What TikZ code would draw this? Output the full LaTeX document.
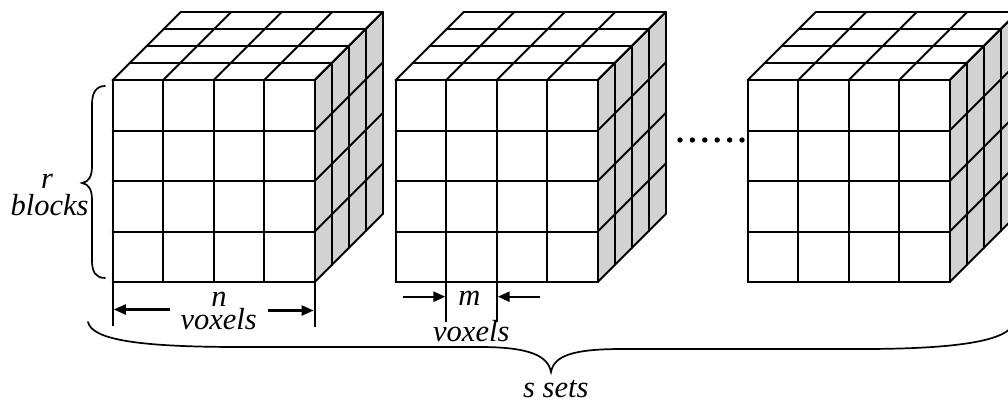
\documentclass[tikz,border=0pt]{standalone}
\usepackage{fontspec}
\setmainfont{Liberation Serif}
\newfontfamily\labelfont{Liberation Serif}
\usetikzlibrary{arrows.meta}
\definecolor{sidegray}{RGB}{210,210,210}
\tikzset{
  cubeline/.style={line width=2pt, line cap=round, line join=round},
  dimline/.style={line width=1.9pt},
  dimarrow/.style={line width=2.4pt, -{Triangle[length=12pt,width=10pt]}},
  bracel/.style={line width=1.7pt, line cap=round},
  lbl/.style={font=\labelfont\itshape\fontsize{30.5}{30.5}\selectfont, inner sep=0pt, anchor=base},
  % a 4x4x4 voxel cube, origin at the top-left corner of the front face
  voxelcube/.pic={
    \fill[sidegray] (202,0) -- (270,-68) -- (270,134) -- (202,202) -- cycle;
    \foreach \i in {0,...,4}{
      % front face
      \draw[cubeline] (\i*50.5,0) -- (\i*50.5,202);
      \draw[cubeline] (0,\i*50.5) -- (202,\i*50.5);
      % top face
      \draw[cubeline] (\i*17,-\i*17) -- (202+\i*17,-\i*17);
      \draw[cubeline] (\i*50.5,0) -- (\i*50.5+68,-68);
      % right face
      \draw[cubeline] (202+\i*17,-\i*17) -- (202+\i*17,202-\i*17);
      \draw[cubeline] (202,\i*50.5) -- (270,\i*50.5-68);
    }
    \coordinate (-ftl) at (0,0);
    \coordinate (-fbl) at (0,202);
    \coordinate (-fbr) at (202,202);
    \coordinate (-c1) at (50.5,202);
    \coordinate (-c2) at (101,202);
  },
}
\begin{document}
\begin{tikzpicture}[x=1pt,y=-1pt]
  \useasboundingbox (0,0) rectangle (1008,402);
  \clip (0,0) rectangle (1008,402);

  % the voxel sets
  \pic (c1) at (112.7,80) {voxelcube};
  \pic (c2) at (395.7,80) {voxelcube};
  \pic (c3) at (747.8,80) {voxelcube};

  % ellipsis between the sets
  \foreach \k in {0,...,5}
    \fill (680+\k*12.4,140) circle (2.7);

  % r blocks
  \draw[bracel] (105,86) .. controls (96,86) and (92,93) .. (92,104)
    -- (92,166) .. controls (92,176) and (89,182) .. (82,183)
    .. controls (89,184) and (92,190) .. (92,200)
    -- (92,261) .. controls (92,272) and (96,278) .. (105,278);
  \node[lbl] (rlab) at (47,188) {r};
  \node[lbl] (blab) at (49.5,215) {blocks};

  % n voxels
  \draw[dimline] (c1-fbl) -- ++(0,44) coordinate (nextl);
  \draw[dimline] (c1-fbr) -- ++(0,45) coordinate (nextr);
  \coordinate (ntailL) at (170,309.5);
  \coordinate (ntipL) at (113.8,309.5);
  \coordinate (ntailR) at (268,310.5);
  \coordinate (ntipR) at (313.6,310.5);
  \draw[dimarrow] (ntailL) -- (ntipL);
  \draw[dimarrow] (ntailR) -- (ntipR);
  \node[lbl] (nlab) at (219,306.7) {n};
  \node[lbl] (nvox) at (218.7,329.3) {voxels};

  % m voxels
  \draw[dimline] (c2-c1) -- ++(0,40) coordinate (mextl);
  \draw[dimline] (c2-c2) -- ++(0,40) coordinate (mextr);
  \coordinate (mtailL) at (402.7,296.7);
  \coordinate (mtipL) at (445.4,296.7);
  \coordinate (mtailR) at (540,296.7);
  \coordinate (mtipR) at (497.7,296.7);
  \draw[dimarrow] (mtailL) -- (mtipL);
  \draw[dimarrow] (mtailR) -- (mtipR);
  \node[lbl] (mlab) at (469.5,305) {m};
  \node[lbl] (mvox) at (471.3,341.7) {voxels};

  % s sets
  \draw[bracel] (88,322) .. controls (92,340) and (140,347) .. (240,347)
    -- (480,347) .. controls (530,347) and (548,356) .. (551,372)
    .. controls (554,356) and (572,349) .. (622,349)
    -- (862,349) .. controls (962,349) and (1010,340) .. (1014,322);
  \node[lbl] (slab) at (555.8,397) {s sets};
\end{tikzpicture}
\end{document}
